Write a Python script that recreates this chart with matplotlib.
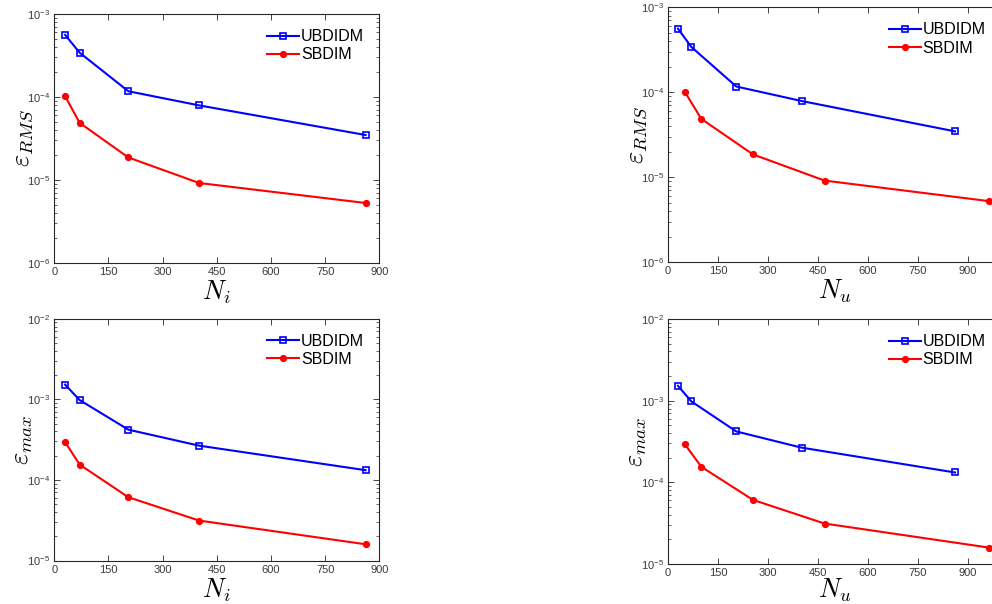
import matplotlib
matplotlib.use("Agg")
import matplotlib.pyplot as plt
from matplotlib.ticker import LogLocator, FixedLocator, NullFormatter

# ---- data ----
N_ubdidm = [30, 70, 205, 401, 862]
N_sbdim_i = [30, 70, 205, 401, 862]
N_sbdim_u = [50, 100, 255, 470, 963]

rms_ubdidm = [5.6e-4, 3.42e-4, 1.17e-4, 7.9e-5, 3.47e-5]
rms_sbdim = [1.02e-4, 4.87e-5, 1.86e-5, 9.15e-6, 5.25e-6]

max_ubdidm = [1.52e-3, 9.8e-4, 4.2e-4, 2.66e-4, 1.32e-4]
max_sbdim = [2.95e-4, 1.55e-4, 6.1e-5, 3.13e-5, 1.59e-5]

x_ticks = [0, 150, 300, 450, 600, 750, 900]
labels = ["UBDIDM", "SBDIM"]

plt.rcParams['font.family'] = ['Liberation Sans', 'DejaVu Sans']
plt.rcParams['mathtext.fontset'] = 'cm'

fig = plt.figure(figsize=(9.92, 6.04), dpi=100)

W, H = 992.0, 604.0
def ax_at(left, right, top, bottom):
    return fig.add_axes([left / W, (H - bottom) / H, (right - left) / W, (bottom - top) / H])

axes_spec = [
    ((54.3, 379.3, 14.0, 262.7), N_sbdim_i, rms_ubdidm, rms_sbdim, (1e-6, 1e-3), (0, 900), r'$N_i$', r'$\varepsilon_{RMS}$', 1),
    ((668.0, 1001.0, 7.3, 262.3), N_sbdim_u, rms_ubdidm, rms_sbdim, (1e-6, 1e-3), (0, 1000), r'$N_u$', r'$\varepsilon_{RMS}$', 1),
    ((54.3, 379.3, 318.7, 560.5), N_sbdim_i, max_ubdidm, max_sbdim, (1e-5, 1e-2), (0, 900), r'$N_i$', r'$\varepsilon_{max}$', 1),
    ((668.0, 1001.0, 319.0, 564.0), N_sbdim_u, max_ubdidm, max_sbdim, (1e-5, 1e-2), (0, 1000), r'$N_u$', r'$\varepsilon_{max}$', -1),
]

frame_col = '#262626'
tick_col = '#3a3a3a'
for box, xs, ubd, sbd, ylim, xlim, xl, yl, xpad in axes_spec:
    ax = ax_at(*box)
    ax.plot(N_ubdidm, ubd, color='blue', lw=1.5, marker='s', ms=4.2,
            mfc='none', mec='blue', mew=1.2, label=labels[0])
    ax.plot(xs, sbd, color='red', lw=1.5, marker='o', ms=4.2,
            mfc='red', mec='red', label=labels[1])
    ax.set_yscale('log')
    ax.set_ylim(*ylim)
    ax.set_xlim(*xlim)
    ax.xaxis.set_major_locator(FixedLocator(x_ticks))
    ax.yaxis.set_major_locator(LogLocator(base=10, numticks=10))
    ax.yaxis.set_minor_locator(LogLocator(base=10, subs=range(2, 10), numticks=20))
    ax.yaxis.set_minor_formatter(NullFormatter())
    ax.tick_params(which='both', direction='in', top=True, right=True,
                   labelsize=8, colors=frame_col, labelcolor=tick_col)
    ax.tick_params(which='major', length=4, width=0.6, pad=3)
    ax.tick_params(which='minor', length=2, width=0.5)
    for s in ax.spines.values():
        s.set_color(frame_col)
        s.set_linewidth(0.8)
    ax.set_xlabel(xl, fontsize=19, labelpad=xpad)
    ax.set_ylabel(yl, fontsize=19, labelpad=-6)
    ax.legend(loc='upper right', frameon=False, fontsize=11.5, handlelength=2.0,
              handletextpad=0.12, labelspacing=0.2, borderaxespad=0.55)

fig.savefig('out.png', dpi=100)
